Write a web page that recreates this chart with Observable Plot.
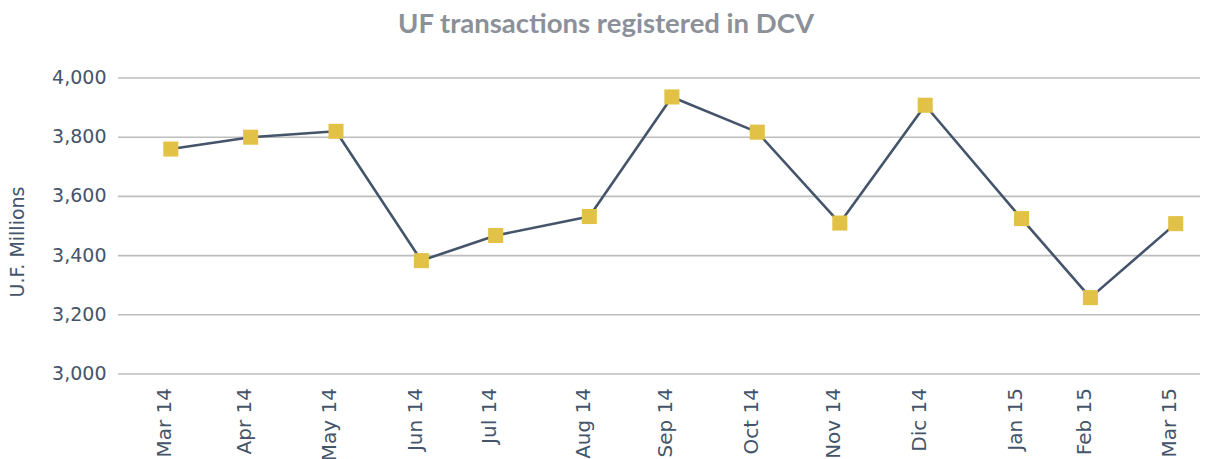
<!DOCTYPE html>
<html><head><meta charset="utf-8">
<script src="https://cdn.jsdelivr.net/npm/d3@7"></script>
<script src="https://cdn.jsdelivr.net/npm/@observablehq/plot@0.6"></script>
<style>
body{margin:0;background:#fff;}
#title{height:50px;text-align:center;font-family:Lato,sans-serif;font-weight:bold;font-size:27.5px;color:#8b9099;line-height:45px;}
#chart svg{display:block;}
</style></head><body>
<div id="title">UF transactions registered in DCV</div>
<div id="chart"></div>
<script>
const labels = ["Mar 14","Apr 14","May 14","Jun 14","Jul 14","Aug 14","Sep 14","Oct 14","Nov 14","Dic 14","Jan 15","Feb 15","Mar 15"];
const dates = ["2014-03-31","2014-04-29","2014-05-30","2014-06-30","2014-07-27","2014-08-30","2014-09-29","2014-10-30","2014-11-29","2014-12-30","2015-02-03","2015-02-28","2015-03-31"];
const values = [3760,3800,3820,3383,3468,3532,3936,3817,3510,3908,3525,3258,3508];
const yTicks = [3000,3200,3400,3600,3800,4000];
const yLabel = "U.F. Millions";

const data = labels.map((l,i)=>({label:l, date:new Date(dates[i]), value:values[i]}));
const labelByTime = new Map(data.map(d=>[+d.date, d.label]));

const chart = Plot.plot({
  width:1212, height:409,
  marginTop:27.5, marginBottom:85.5, marginLeft:118, marginRight:12,
  style:{fontFamily:"'DejaVu Sans', sans-serif", fontSize:"18px", color:"#44546a", background:"#fff", overflow:"visible"},
  x:{type:"utc", domain:[new Date("2014-03-12"), new Date("2015-04-09")]},
  y:{domain:[3000,4000]},
  marks:[
    Plot.ruleY(yTicks, {stroke:"#bdbdbd", strokeWidth:1.6}),
    Plot.axisY({ticks:yTicks, tickSize:0, tickPadding:12, tickFormat:d3.format(","), label:null, fontSize:19, fill:"#44546a"}),
    Plot.text([yLabel], {frameAnchor:"left", rotate:-90, textAnchor:"middle", lineAnchor:"middle", dx:-101, dy:16, fontSize:19, fill:"#44546a"}),
    Plot.axisX({ticks:data.map(d=>d.date), tickFormat:d=>labelByTime.get(+d), tickRotate:-90, tickSize:0, tickPadding:14, dx:-6, label:null, fontSize:20, fill:"#44546a"}),
    Plot.line(data, {x:"date", y:"value", stroke:"#44546a", strokeWidth:2.6}),
    Plot.dot(data, {x:"date", y:"value", symbol:"square", r:8.5, fill:"#e2c246", stroke:"none"})
  ]
});
document.getElementById("chart").appendChild(chart);
</script>
</body></html>
